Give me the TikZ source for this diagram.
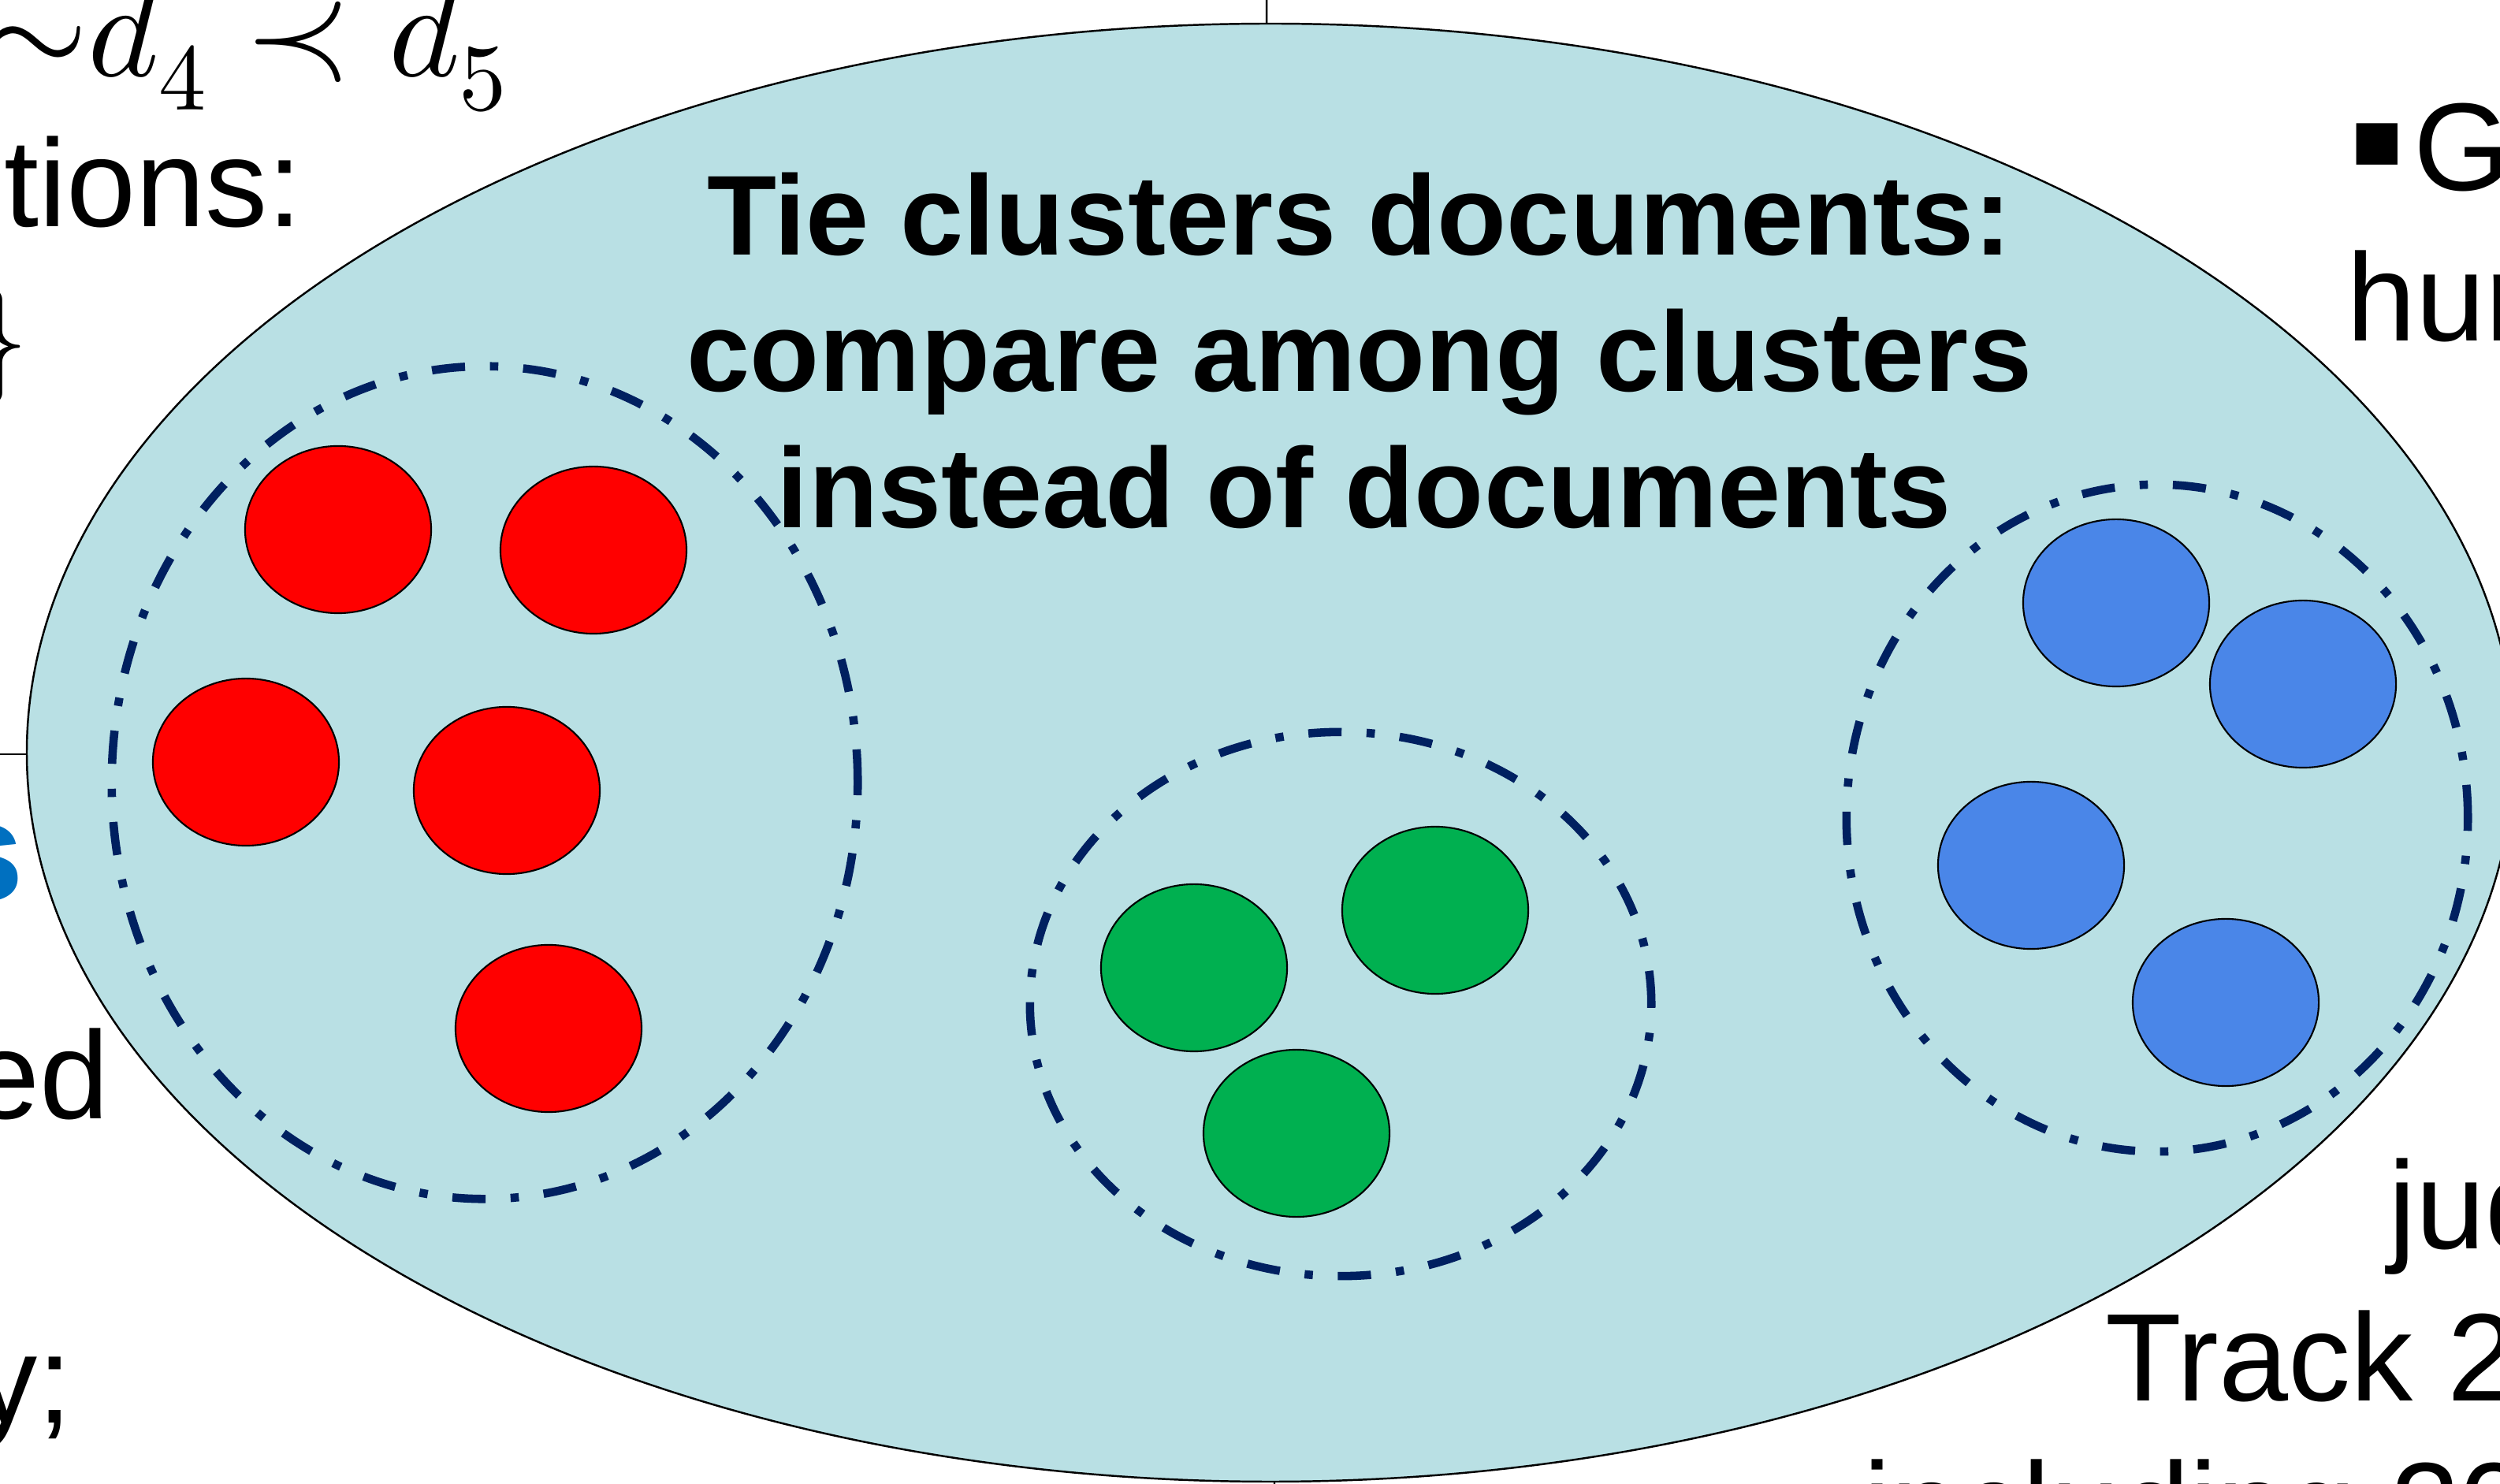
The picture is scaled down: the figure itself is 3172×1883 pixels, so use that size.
\documentclass[tikz,border=0pt]{standalone}
\usepackage{fontspec}
\usepackage{unicode-math}
\setmainfont{Liberation Sans}
\newfontfamily\symfont{DejaVu Sans}
\usetikzlibrary{shapes.geometric}
\definecolor{tiefill}{RGB}{185,224,228}
\definecolor{clusline}{HTML}{002060}
\definecolor{docred}{HTML}{FF0000}
\definecolor{docgreen}{HTML}{00B050}
\definecolor{docblue}{HTML}{4A86E8}
\definecolor{headblue}{HTML}{0070C0}
\tikzset{
  doc/.style={ellipse, draw=black, line width=0.6pt, minimum width=2.36cm, minimum height=2.12cm, inner sep=0pt},
  clus/.style={ellipse, draw=clusline, line width=3pt, dash pattern=on 12pt off 9pt on 3pt off 9pt, inner sep=0pt},
  slide/.style={font=\fontsize{45}{54}\selectfont, inner sep=0pt},
  title/.style={font=\fontsize{41}{49}\selectfont\bfseries, inner sep=0pt, anchor=base},
}
\begin{document}
\begin{tikzpicture}[x=0.01cm, y=-0.01cm]
  \useasboundingbox (0,0) rectangle (3172,1883);
  \clip (0,0) rectangle (3172,1883);
  % slide text round the picture
  \node[slide, anchor=base west, font=\fontsize{49}{58}\selectfont] (rel) at (-22,97) {${\sim}d_4 \prec d_5$};
  \node[slide, anchor=base west] (tions) at (5,288) {tions:};
  \node[slide, anchor=base east] (brace) at (38,480) {$\}$};
  \node[slide, anchor=base east, font=\fontsize{51}{60}\selectfont\bfseries, text=headblue] (head) at (31,1143) {s};
  \node[slide, anchor=base east] (ed) at (139,1420) {ed};
  \node[slide, anchor=base east] (semi) at (92,1805) {y;};
  \node[slide, anchor=base west] (gold) at (2980,242) {\raisebox{9pt}{\symfont\fontsize{30}{36}\selectfont ▪}\kern3pt G};
  \node[slide, anchor=base west] (hum) at (2977,433) {hum};
  \node[slide, anchor=base west] (jud) at (3030,1584) {jud};
  \node[slide, anchor=base west] (track) at (2671,1777) {Track 2};
  \node[slide, anchor=base west] (incl) at (2364,1966) {including 20};
  % lines behind the ellipse
  \coordinate (vtop) at (1607,0);
  \coordinate (vbot) at (1617,1883);
  \coordinate (hleft) at (0,957);
  \coordinate (hright) at (1612,957);
  \draw[line width=0.7pt] (vtop) -- (vbot);
  \draw[line width=0.7pt] (hleft) -- (hright);
  % tie ellipse
  \draw[fill=tiefill, line width=0.7pt] (1612,955) ellipse (1578 and 925);
  \node[title] (t1) at (1725,324) {Tie clusters documents:};
  \node[title] (t2) at (1725,497) {compare among clusters};
  \node[title] (t3) at (1731,670) {instead of documents};
  % clusters
  \node[clus, minimum width=9.46cm, minimum height=10.56cm] (cl) at (615,993) {};
  \node[clus, minimum width=7.88cm, minimum height=6.9cm] (cm) at (1701,1274) {};
  \node[clus, minimum width=7.88cm, minimum height=8.46cm] (cr) at (2737,1038) {};
  % documents
  \node[doc, fill=docred] (r1) at (429,672) {};
  \node[doc, fill=docred] (r2) at (753,698) {};
  \node[doc, fill=docred] (r3) at (312,967) {};
  \node[doc, fill=docred] (r4) at (643,1003) {};
  \node[doc, fill=docred] (r5) at (696,1305) {};
  \node[doc, fill=docgreen] (g1) at (1515,1228) {};
  \node[doc, fill=docgreen] (g2) at (1821,1155) {};
  \node[doc, fill=docgreen] (g3) at (1645,1438) {};
  \node[doc, fill=docblue] (b1) at (2685,765) {};
  \node[doc, fill=docblue] (b2) at (2922,868) {};
  \node[doc, fill=docblue] (b3) at (2577,1098) {};
  \node[doc, fill=docblue] (b4) at (2824,1272) {};
\end{tikzpicture}
\end{document}
